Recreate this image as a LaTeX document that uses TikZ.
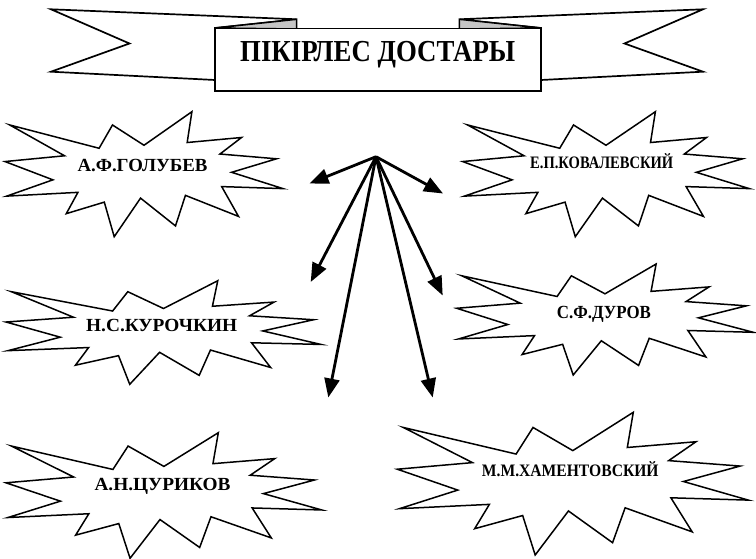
\documentclass[tikz,border=0pt]{standalone}
\usepackage{fontspec}
\setmainfont{Liberation Serif}
\usetikzlibrary{arrows.meta}
\tikzset{
  burstline/.style={draw=black, line width=1.5pt, fill=white, line join=miter},
  ribbonline/.style={draw=black, line width=1.7pt, fill=white, line join=miter},
  foldline/.style={draw=black, line width=1.5pt, fill=gray!45, line join=miter},
  lbl/.style={inner sep=0pt, anchor=base west, font=\fontsize{18.5}{21}\selectfont\bfseries},
  lblsmall/.style={lbl, font=\fontsize{17.5}{20}\selectfont\bfseries},
  ptr/.style={line width=2.8pt, -{Triangle[length=19pt,width=15pt]}}
}
\newcommand\drawburst[4]{%
  \begin{scope}[shift={(#1,#2)},xscale=#3/21.6,yscale=#4/21.6]
    \draw[burstline] (10.8,5.8)--(14.522,0)--(14.155,5.325)--(18.38,4.457)--(16.702,7.315)
      --(21.097,8.137)--(17.607,10.475)--(21.6,13.29)--(16.837,12.942)--(18.145,18.095)
      --(14.02,14.457)--(13.247,19.737)--(10.532,14.935)--(8.485,21.6)--(7.715,15.627)
      --(4.762,17.617)--(5.667,13.937)--(0.135,14.587)--(3.722,11.775)--(0,8.615)
      --(4.627,7.617)--(0.37,2.295)--(7.312,6.32)--(8.352,2.295)--cycle;
  \end{scope}}
\begin{document}
\begin{tikzpicture}[x=1pt,y=-1pt]
\useasboundingbox (0,0) rectangle (756,559);
\fill[white] (0,0) rectangle (756,559);

% banner
\draw[ribbonline] (296.7,19.3)--(51,9.3)--(129.5,43.5)--(51,71.7)--(215,80)--(215,28)--cycle;
\draw[ribbonline] (459.3,19.3)--(703,9.3)--(624.5,43.5)--(703,71.7)--(541,80)--(541,28)--cycle;
\draw[foldline] (215,28)--(296.7,19.3)--(296.7,29)--cycle;
\draw[foldline] (541,28)--(459.3,19.3)--(459.3,29)--cycle;
\draw[ribbonline] (215,28.5) rectangle (541,91);
\node[inner sep=0pt, anchor=base west, font=\fontsize{30.5}{33}\selectfont\bfseries] (title) at (240,62)
  {\resizebox{275pt}{\height}{ПІКІРЛЕС ДОСТАРЫ}};

% starbursts
\drawburst{5}{111.7}{278}{125}
\drawburst{462.7}{111.7}{286.6}{125}
\drawburst{6}{280.7}{315}{103.6}
\drawburst{456.7}{264}{296.6}{111}
\drawburst{6}{432.7}{315.8}{125.6}
\drawburst{397.3}{412.3}{351}{142.7}

\node[lbl] (golubev) at (77.3,171.7) {\resizebox{130pt}{\height}{А.Ф.ГОЛУБЕВ}};
\node[lblsmall] (kovalevsky) at (530,168.3) {\resizebox{143pt}{\height}{Е.П.КОВАЛЕВСКИЙ}};
\node[lbl] (kurochkin) at (86,331) {\resizebox{151pt}{\height}{Н.С.КУРОЧКИН}};
\node[lbl] (durov) at (556.7,318.3) {\resizebox{94pt}{\height}{С.Ф.ДУРОВ}};
\node[lbl] (tsurikov) at (94.3,490.7) {\resizebox{136pt}{\height}{А.Н.ЦУРИКОВ}};
\node[lblsmall] (khamentovsky) at (481.7,476.7) {\resizebox{176.7pt}{\height}{М.М.ХАМЕНТОВСКИЙ}};

% arrows
\coordinate (hub) at (376,156.7);
\coordinate (t1) at (309.5,183.5);
\coordinate (t2) at (443,193.5);
\coordinate (t3) at (310.7,282);
\coordinate (t4) at (442.7,295.5);
\coordinate (t5) at (328.3,397.5);
\coordinate (t6) at (432.7,397.5);
\foreach \t in {t1,t2,t3,t4,t5,t6} \draw[ptr] (hub) -- (\t);
\end{tikzpicture}
\end{document}
